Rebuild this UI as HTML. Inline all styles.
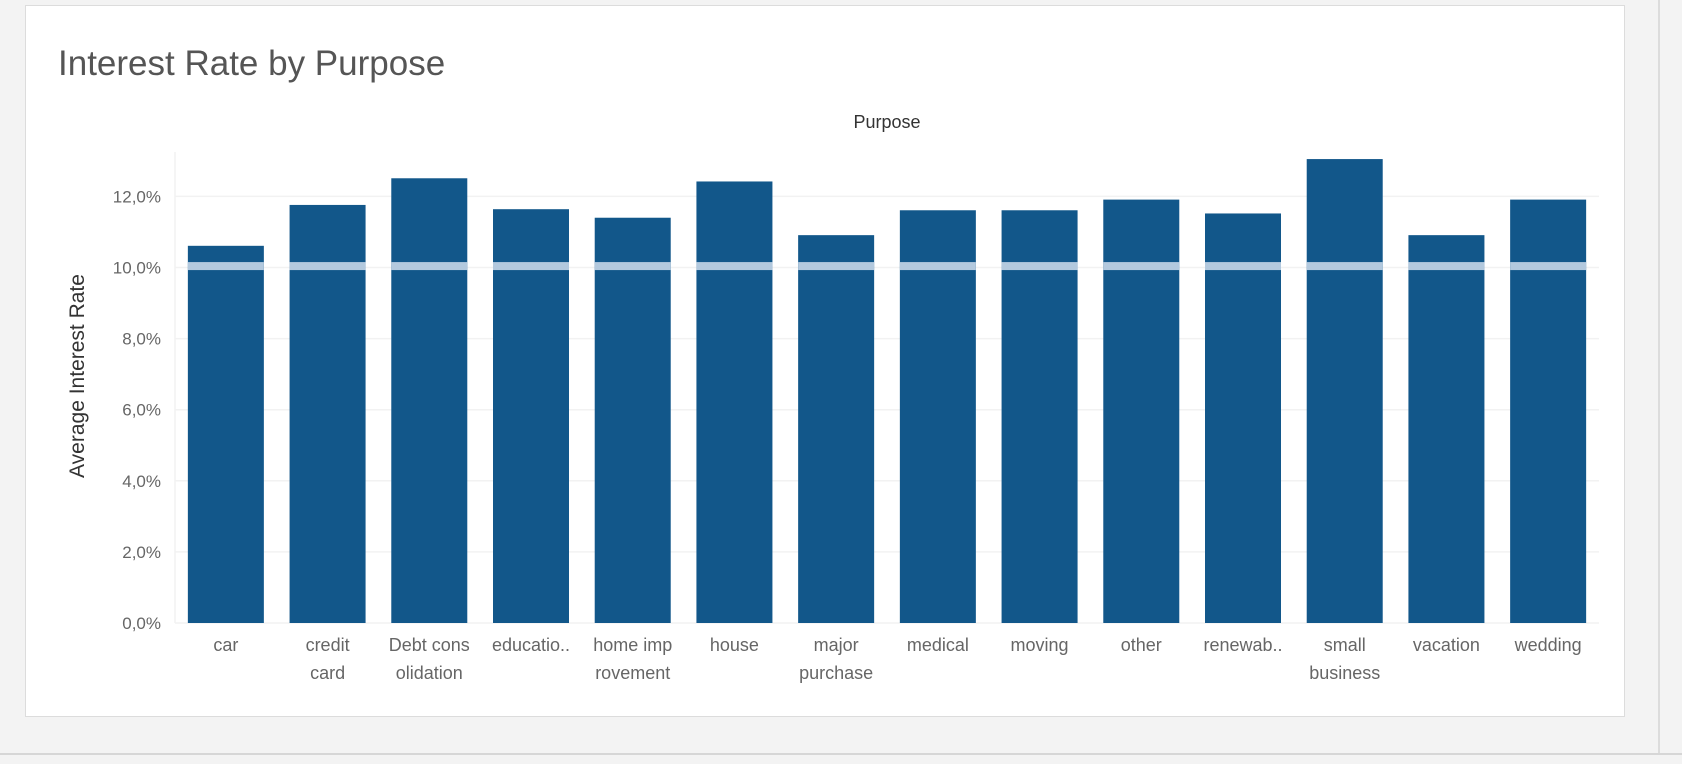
<!DOCTYPE html>
<html><head><meta charset="utf-8">
<style>
html,body{margin:0;padding:0;width:1682px;height:764px;background:#f3f3f3;overflow:hidden;font-family:"Liberation Sans",sans-serif;}
#card{position:absolute;left:25px;top:5px;width:1598px;height:710px;background:#fff;border:1px solid #dcdcdc;}
#bottomline{position:absolute;left:0;top:753px;width:1682px;height:2px;background:#d6d6d6;}
#rightline{position:absolute;left:1658px;top:0;width:2px;height:753px;background:#dcdcdc;}
svg{position:absolute;left:0;top:0;}
</style></head>
<body>
<div id="card"></div>
<div id="bottomline"></div>
<div id="rightline"></div>
<svg id="chart" width="1682" height="764">
  <text x="58" y="75" font-size="35" fill="#555">Interest Rate by Purpose</text>
  <text x="887" y="128" font-size="18" fill="#333" text-anchor="middle">Purpose</text>
  <text transform="translate(84,376) rotate(-90)" font-size="21" fill="#333" text-anchor="middle">Average Interest Rate</text>
</svg>
<script>
const categories = [["car"],["credit","card"],["Debt cons","olidation"],["educatio.."],["home imp","rovement"],["house"],["major","purchase"],["medical"],["moving"],["other"],["renewab.."],["small","business"],["vacation"],["wedding"]];
const values = [10.61,11.76,12.51,11.64,11.40,12.42,10.91,11.61,11.61,11.91,11.52,13.05,10.91,11.91];
const refValue = 10.04;
const yTicks = [0,2,4,6,8,10,12];
const yTickLabels = ["0,0%","2,0%","4,0%","6,0%","8,0%","10,0%","12,0%"];

const NS="http://www.w3.org/2000/svg";
const svg=document.getElementById('chart');
const plotL=175, plotR=1599, y0=623, pxPer=35.55;
const band=(plotR-plotL)/categories.length, barW=76;
function yS(v){return y0-v*pxPer;}
function xS(i){return plotL+band*i+band/2;}
function mk(tag,attrs){const e=document.createElementNS(NS,tag);for(const k in attrs)e.setAttribute(k,attrs[k]);svg.appendChild(e);return e;}

yTicks.forEach((t,i)=>{
  const g=mk('line',{x1:plotL,x2:plotR,y1:yS(t),y2:yS(t),stroke:'#f2f2f2','stroke-width':1.5});
  
  
  const l=mk('text',{x:161,y:yS(t)+6,'font-size':17,fill:'#666','text-anchor':'end'});
  l.textContent=yTickLabels[i];
  
  
});
const ax=mk('line',{x1:plotL,x2:plotL,y1:152,y2:y0,stroke:'#f2f2f2','stroke-width':1.5});



values.forEach((v,i)=>{
  const x=xS(i)-barW/2;
  const r=mk('rect',{x:x,y:yS(v),width:barW,height:y0-yS(v),fill:'#12578a'});
  
  
  const b=mk('rect',{x:x,y:yS(refValue)-4,width:barW,height:8,fill:'#b3c9de'});
  
  
  categories[i].forEach((ln,j)=>{
    const t=mk('text',{x:xS(i),y:651+j*28,'font-size':18,fill:'#666','text-anchor':'middle'});
    t.textContent=ln;
    
    
  });
});
</script>
</body></html>
